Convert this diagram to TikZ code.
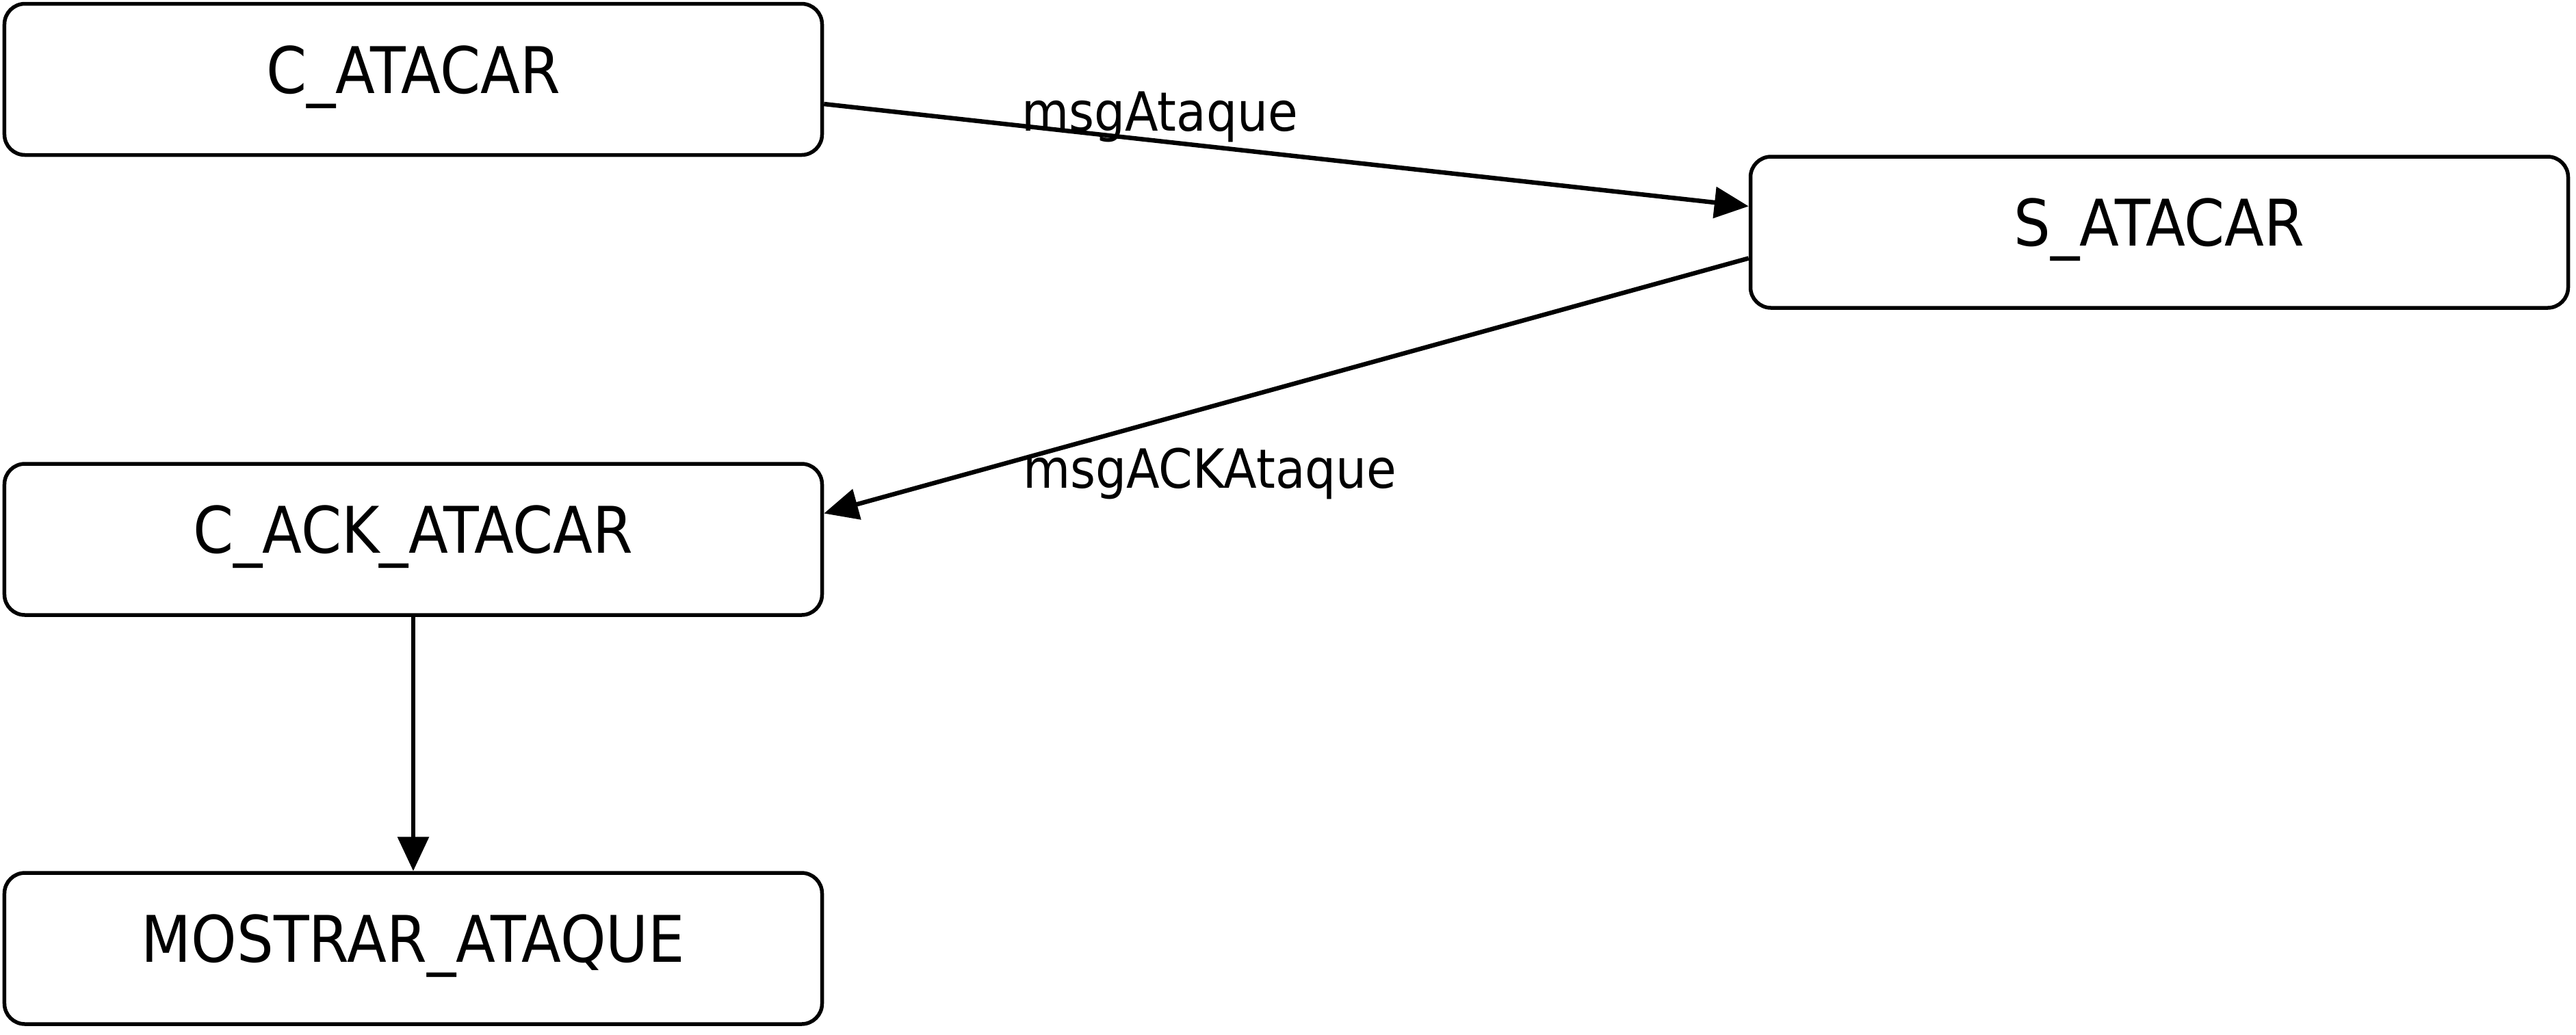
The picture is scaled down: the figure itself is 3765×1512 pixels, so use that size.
\documentclass[tikz,border=0pt]{standalone}
\usepackage{fontspec}
\setmainfont{DejaVu Sans}[FakeStretch=0.9]
\usetikzlibrary{arrows.meta}
\begin{document}
\begin{tikzpicture}[x=0.2pt,y=-0.2pt,
  state/.style={draw=black, line width=1.1pt, rounded corners=6pt, fill=white,
    minimum width=239pt, minimum height=44.2pt, inner sep=0pt,
    text height=12pt, text depth=4pt, font=\fontsize{18.8pt}{22pt}\selectfont},
  conn/.style={draw=black, line width=1.3pt, -{Triangle[length=10pt,width=9pt]}},
  lbl/.style={anchor=base west, inner sep=0pt, font=\fontsize{15.8pt}{19pt}\selectfont}]
\useasboundingbox (0,0) rectangle (3765,1512);
\node[state] (catacar) at (604,116) {C\_ATACAR};
\node[state] (satacar) at (3156,339.5) {S\_ATACAR};
\node[state] (cack) at (604,788.5) {C\_ACK\_ATACAR};
\node[state] (mostrar) at (604,1386.5) {MOSTRAR\_ATAQUE};
\draw[conn] ([yshift=-7.2pt]catacar.east) -- ([yshift=7.6pt]satacar.west);
\draw[conn] ([yshift=-7.6pt]satacar.west) -- ([yshift=7.6pt]cack.east);
\draw[conn] (cack.south) -- (mostrar.north);
\node[lbl] (l1) at (1492,191) {msgAtaque};
\node[lbl] (l2) at (1494,713) {msgACKAtaque};
\end{tikzpicture}
\end{document}
